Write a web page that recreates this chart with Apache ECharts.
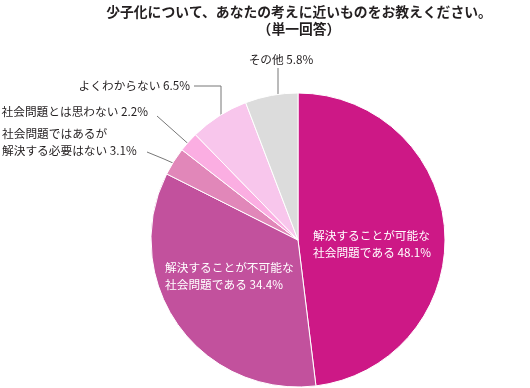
<!DOCTYPE html>
<html><head><meta charset="utf-8">
<script src="https://cdn.jsdelivr.net/npm/echarts@6/dist/echarts.min.js"></script>
<style>html,body{margin:0;padding:0;background:#fff}#c{width:530px;height:388px}</style>
</head><body><div id="c"></div>
<script>
const titleText = '少子化について、あなたの考えに近いものをお教えください。\n（単一回答）';
const categories = ['解決することが可能な\n社会問題である', '解決することが不可能な\n社会問題である', '社会問題ではあるが\n解決する必要はない', '社会問題とは思わない', 'よくわからない', 'その他'];
const values = [48.1, 34.4, 3.1, 2.2, 6.5, 5.8];
const colors = ['#CD1886', '#C2519D', '#E187B9', '#FBAEE2', '#F8C6EC', '#DCDCDC'];

// label layout: [x, y, align, linePoints]
const layouts = [
  {x: 313, y: 244, align: 'left'},
  {x: 165, y: 276, align: 'left'},
  {x: 2, y: 142, align: 'left', line: [[147, 152], [164, 159], [182, 167]]},
  {x: 148, y: 112, align: 'right', line: [[157, 116], [175, 132], [193, 148]]},
  {x: 190, y: 86, align: 'right', line: [[194, 86], [221, 86], [221, 122]]},
  {x: 281, y: 60, align: 'center', line: [[278, 68], [278, 86], [278, 104]]}
];

const chart = echarts.init(document.getElementById('c'), null, {renderer: 'canvas'});
chart.setOption({
  animation: false,
  title: {
    text: titleText, left: 294, top: -2, textAlign: 'center',
    textStyle: {fontFamily: 'Noto Sans CJK JP', fontSize: 13.8, fontWeight: 'bold', color: '#231F20', lineHeight: 17}
  },
  series: [{
    type: 'pie',
    center: [298, 240],
    radius: [0, 147],
    startAngle: 90,
    clockwise: true,
    itemStyle: {borderColor: '#fff', borderWidth: 1},
    label: {
      fontFamily: 'Noto Sans CJK JP', fontSize: 11.7, color: '#231F20', lineHeight: 17,
      formatter: p => p.name + ' ' + p.value + '%'
    },
    labelLine: {show: true, lineStyle: {color: '#777', width: 1}, length: 10, length2: 10},
    labelLayout: function (p) {
      const L = layouts[p.dataIndex];
      const r = {x: L.x, y: L.y, align: L.align, verticalAlign: 'middle'};
      if (L.line) r.labelLinePoints = L.line;
      return r;
    },
    data: values.map((v, i) => {
      const d = {name: categories[i], value: v, itemStyle: {color: colors[i]}};
      if (i < 2) {
        d.label = {position: 'inside', color: '#fff', align: 'left'};
        d.labelLine = {show: false};
      }
      return d;
    })
  }]
});
</script></body></html>
